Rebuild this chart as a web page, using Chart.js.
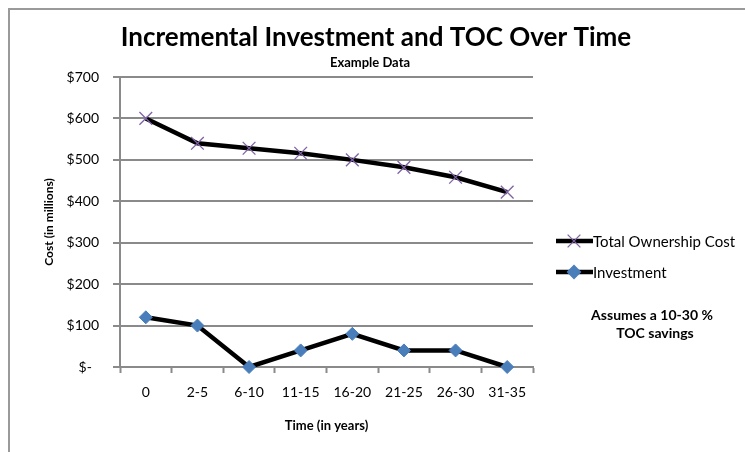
<!DOCTYPE html>
<html lang="en">
<head>
    <meta charset="UTF-8">
    <title>Incremental Investment and TOC Over Time</title>
    <script src="https://cdn.jsdelivr.net/npm/chart.js"></script>
    <style>
        body { margin: 0; background: #fff; }
    </style>
</head>
<body>
    <canvas id="chart" width="745" height="452"></canvas>
    <script>
        const periods = ['0', '2-5', '6-10', '11-15', '16-20', '21-25', '26-30', '31-35'];
        const totalOwnershipCost = [600, 540, 528, 516, 500, 482, 458, 422];
        const investment = [120, 100, 0, 40, 80, 40, 40, 0];
        const yTicks = [0, 100, 200, 300, 400, 500, 600, 700];

        const gridGray = '#8a8a8a';
        const tocPurple = '#7f62a6';
        const invBlue = '#4a7ebb';

        Chart.defaults.font.family = 'Lato';
        Chart.defaults.color = '#000';

        // title, legend, note and frame drawn on top
        const extras = {
            id: 'extras',
            afterDraw(chart) {
                const ctx = chart.ctx;
                ctx.save();
                // frame (only top and left show)
                ctx.strokeStyle = '#9a9a9a';
                ctx.lineWidth = 2;
                ctx.beginPath();
                ctx.moveTo(9, 452);
                ctx.lineTo(9, 9);
                ctx.lineTo(745, 9);
                ctx.stroke();

                ctx.fillStyle = '#000';
                ctx.textAlign = 'center';
                ctx.textBaseline = 'middle';
                ctx.font = 'bold 26px Lato';
                ctx.fillText('Incremental Investment and TOC Over Time', 376, 38);
                ctx.font = 'bold 13px Lato';
                ctx.fillText('Example Data', 370, 63);

                ctx.font = 'bold 14px Lato';
                ctx.fillText('Assumes a 10-30 %', 652, 315);
                ctx.fillText('TOC savings', 655, 333);

                // legend
                const items = [
                    { text: 'Total Ownership Cost', y: 241, style: 'crossRot', r: 9, color: tocPurple, fill: 'rgba(0,0,0,0)' },
                    { text: 'Investment', y: 272, style: 'rectRot', r: 6.5, color: invBlue, fill: invBlue }
                ];
                items.forEach(it => {
                    ctx.strokeStyle = '#000';
                    ctx.lineWidth = 4.5;
                    ctx.beginPath();
                    ctx.moveTo(556, it.y);
                    ctx.lineTo(593, it.y);
                    ctx.stroke();
                    ctx.strokeStyle = it.color;
                    ctx.fillStyle = it.fill;
                    ctx.lineWidth = 1.3;
                    Chart.helpers.drawPoint(ctx, { pointStyle: it.style, radius: it.r, rotation: 0, borderWidth: 1.3 }, 574, it.y);
                    ctx.fillStyle = '#000';
                    ctx.textAlign = 'left';
                    ctx.font = '15px Lato';
                    ctx.fillText(it.text, 593, it.y + 1);
                });
                ctx.restore();
            }
        };

        new Chart(document.getElementById('chart'), {
            type: 'line',
            data: {
                labels: periods,
                datasets: [
                    {
                        label: 'Total Ownership Cost',
                        data: totalOwnershipCost,
                        borderColor: '#000',
                        borderWidth: 4.5,
                        pointStyle: 'crossRot',
                        pointRadius: 9,
                        pointBorderColor: tocPurple,
                        pointBorderWidth: 1.3,
                        pointBackgroundColor: 'transparent',
                        clip: false
                    },
                    {
                        label: 'Investment',
                        data: investment,
                        borderColor: '#000',
                        borderWidth: 4.5,
                        pointStyle: 'rectRot',
                        pointRadius: 6.5,
                        pointBorderColor: invBlue,
                        pointBorderWidth: 1,
                        pointBackgroundColor: invBlue,
                        clip: false
                    }
                ]
            },
            options: {
                responsive: false,
                animation: false,
                layout: { padding: { left: 38, right: 212, top: 77, bottom: 10 } },
                plugins: {
                    legend: { display: false },
                    tooltip: { enabled: false }
                },
                scales: {
                    x: {
                        offset: true,
                        afterFit: s => { s.height = 75; },
                        grid: {
                            offset: true,
                            drawOnChartArea: false,
                            tickLength: 6,
                            tickWidth: 2,
                            tickColor: gridGray
                        },
                        border: { color: gridGray, width: 2 },
                        ticks: { padding: 11, font: { size: 14 } },
                        title: {
                            display: true,
                            text: 'Time (in years)',
                            font: { size: 13, weight: 'bold' },
                            padding: { top: 0, bottom: 8 }
                        }
                    },
                    y: {
                        min: 0,
                        max: 700,
                        afterFit: s => { s.width = 120 - 38; },
                        afterBuildTicks: s => { s.ticks = yTicks.map(v => ({ value: v })); },
                        grid: {
                            color: gridGray,
                            lineWidth: 2,
                            tickLength: 7
                        },
                        border: { color: gridGray, width: 2 },
                        ticks: {
                            padding: 14,
                            font: { size: 14 },
                            callback: v => v === 0 ? '$-  ' : '$' + v
                        },
                        title: {
                            display: true,
                            text: 'Cost (in millions)',
                            font: { size: 12, weight: 'bold' },
                            padding: { top: 4, bottom: 0 }
                        }
                    }
                }
            },
            plugins: [extras]
        });
    </script>
</body>
</html>
